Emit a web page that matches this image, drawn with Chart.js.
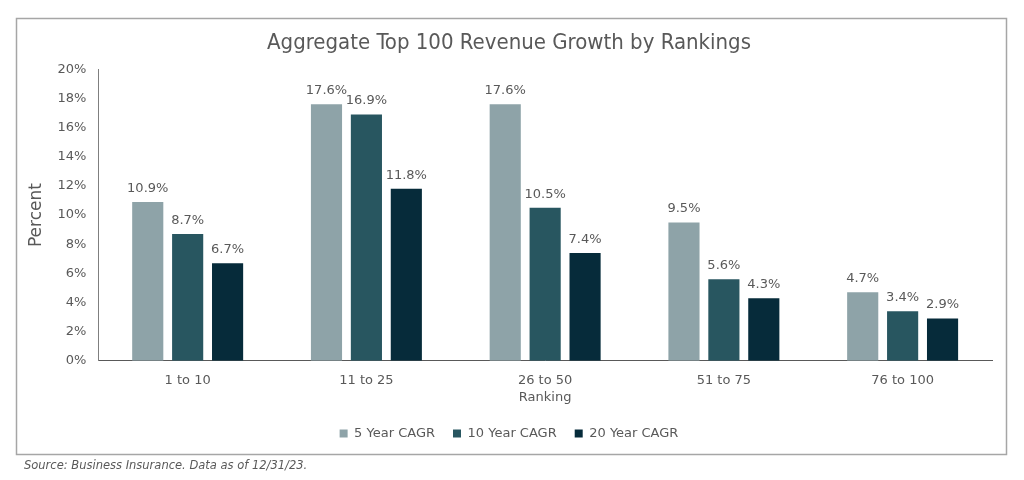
<!DOCTYPE html>
<html>
<head>
<meta charset="utf-8">
<script src="https://cdn.jsdelivr.net/npm/chart.js@4/dist/chart.umd.min.js"></script>
<style>
  html, body { margin: 0; padding: 0; background: #ffffff; }
  #wrap { position: relative; width: 1024px; height: 480px; }
  #source { position: absolute; left: 24px; top: 458px; font-family: "DejaVu Sans", Verdana, sans-serif; font-style: italic; font-size: 11.5px; color: #595959; }
</style>
</head>
<body>
<div id="wrap">
  <canvas id="c" width="1024" height="480"></canvas>
  <div id="source">Source: Business Insurance. Data as of 12/31/23.</div>
</div>
<script>
const categories = ["1 to 10", "11 to 25", "26 to 50", "51 to 75", "76 to 100"];
const seriesNames = ["5 Year CAGR", "10 Year CAGR", "20 Year CAGR"];
const fiveYear = [10.9, 17.6, 17.6, 9.5, 4.7];
const tenYear = [8.7, 16.9, 10.5, 5.6, 3.4];
const twentyYear = [6.7, 11.8, 7.4, 4.3, 2.9];
const colors = ["#8ea3a8", "#285660", "#062b3a"];

const borderPlugin = {
  id: 'borderBox',
  beforeDraw(chart) {
    const ctx = chart.ctx;
    ctx.save();
    ctx.strokeStyle = '#a6a6a6';
    ctx.lineWidth = 1.5;
    ctx.strokeRect(16.5, 18.5, 990, 436);
    ctx.restore();
  }
};

const labelPlugin = {
  id: 'valueLabels',
  afterDatasetsDraw(chart) {
    const ctx = chart.ctx;
    ctx.save();
    ctx.font = '13px "DejaVu Sans", Verdana, sans-serif';
    ctx.fillStyle = '#595959';
    ctx.textAlign = 'center';
    ctx.textBaseline = 'bottom';
    chart.data.datasets.forEach((ds, i) => {
      const meta = chart.getDatasetMeta(i);
      meta.data.forEach((bar, j) => {
        ctx.fillText(ds.data[j].toFixed(1) + '%', bar.x, bar.y - 7);
      });
    });
    ctx.restore();
  }
};

new Chart(document.getElementById('c'), {
  type: 'bar',
  data: {
    labels: categories,
    datasets: [
      { label: seriesNames[0], data: fiveYear, backgroundColor: colors[0] },
      { label: seriesNames[1], data: tenYear, backgroundColor: colors[1] },
      { label: seriesNames[2], data: twentyYear, backgroundColor: colors[2] }
    ]
  },
  options: {
    responsive: false,
    animation: false,
    devicePixelRatio: 1,
    datasets: { bar: { categoryPercentage: 0.67, barPercentage: 0.78 } },
    layout: { padding: { left: 26, right: 32, top: 20, bottom: 30 } },
    plugins: {
      title: {
        display: true,
        text: 'Aggregate Top 100 Revenue Growth by Rankings',
        color: '#595959',
        font: { family: '"DejaVu Sans Condensed", "DejaVu Sans", sans-serif', size: 22, weight: 'normal' },
        padding: { top: 10, bottom: 13 }
      },
      legend: {
        position: 'bottom',
        labels: {
          color: '#595959',
          boxWidth: 8,
          boxHeight: 8,
          padding: 18,
          font: { family: '"DejaVu Sans", Verdana, sans-serif', size: 13 }
        }
      },
      tooltip: { enabled: false }
    },
    scales: {
      x: {
        grid: { display: false, drawTicks: false },
        border: { color: '#595959', width: 1 },
        ticks: { color: '#595959', padding: 12, font: { family: '"DejaVu Sans", Verdana, sans-serif', size: 13 } },
        title: { display: true, text: 'Ranking', color: '#595959', padding: { top: -11, bottom: 4 }, font: { family: '"DejaVu Sans", Verdana, sans-serif', size: 13 } }
      },
      y: {
        min: 0, max: 20,
        grid: { display: false, drawTicks: false },
        border: { color: '#7f7f7f', width: 1 },
        ticks: { stepSize: 2, color: '#595959', padding: 12, callback: v => v + '%', font: { family: '"DejaVu Sans", Verdana, sans-serif', size: 13 } },
        title: { display: true, text: 'Percent', color: '#595959', padding: { top: 0, bottom: -1 }, font: { family: '"DejaVu Sans", Verdana, sans-serif', size: 17 } }
      }
    }
  },
  plugins: [borderPlugin, labelPlugin]
});
</script>
</body>
</html>
